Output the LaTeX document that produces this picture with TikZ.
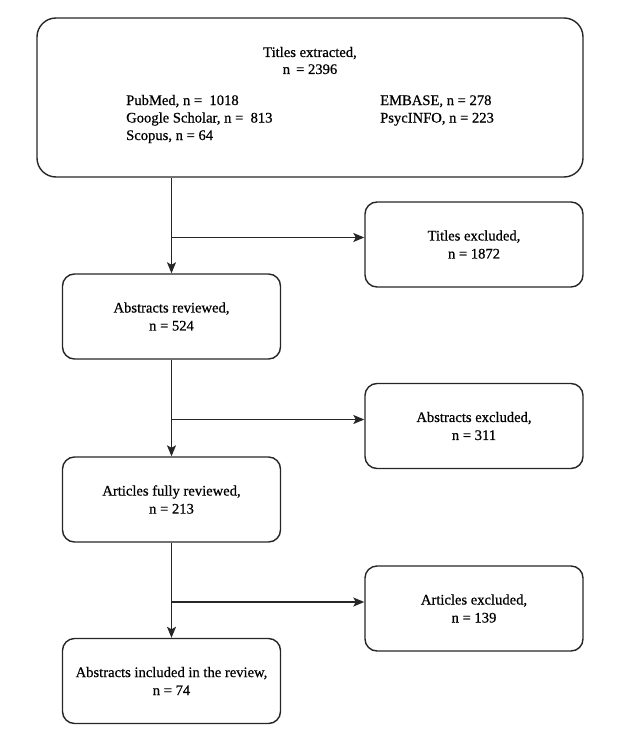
\documentclass[tikz,border=0pt]{standalone}
\usepackage{fontspec}
\setmainfont{Liberation Serif}[FakeBold=0.6]
\usetikzlibrary{arrows.meta}
\begin{document}
\begin{tikzpicture}[x=1pt,y=1pt,
  box/.style={draw=black!85, line width=1.4pt, rounded corners=12pt, minimum width=218pt, minimum height=85pt, align=center, inner sep=0pt, font=\fontsize{14.6}{18}\selectfont},
  bigbox/.style={draw=black!85, line width=1.4pt, rounded corners=19pt, minimum width=546pt, minimum height=159pt, inner sep=0pt},
  txt/.style={align=center, inner sep=0pt, font=\fontsize{14.6}{17}\selectfont},
  src/.style={align=left, inner sep=0pt, anchor=west, font=\fontsize{14.6}{17.5}\selectfont},
  flow/.style={draw=black!85, line width=1.4pt, -{Stealth[length=11pt,width=9pt,inset=2.5pt]}}
]
\useasboundingbox (0,0) rectangle (620,-735);
\node[bigbox] (top) at (310,-97.5) {};
\node[txt] (toptitle) at (310,-60.5) {Titles extracted,\\n \,= 2396};
\node[src] (srcl) at (126,-119) {PubMed, n = \ 1018\\Google Scholar, n = \ 813\\Scopus, n = 64};
\node[src] (srcr) at (380,-110.5) {EMBASE, n = 278\\PsycINFO, n = 223};

\node[box] (te) at (474,-244.5) {Titles excluded,\\n = 1872};
\node[box] (ar) at (171.5,-316.5) {Abstracts reviewed,\\n = 524};
\node[box] (ae) at (474,-426) {Abstracts excluded,\\n = 311};
\node[box] (afr) at (171.5,-499.5) {Articles fully reviewed,\\n = 213};
\node[box] (axe) at (474,-608.5) {Articles excluded,\\n = 139};
\node[box] (ai) at (171.5,-681) {Abstracts included in the review,\\n = 74};

\coordinate (b1) at (171.5,-237.5);
\coordinate (b2) at (171.5,-419.5);
\coordinate (b3) at (171.5,-602);

\draw[flow] (top.south -| ar.north) -- (ar.north);
\draw[flow] (b1) -- (b1 -| te.west);
\draw[flow] (ar.south) -- (afr.north);
\draw[flow] (b2) -- (b2 -| ae.west);
\draw[flow] (afr.south) -- (ai.north);
\draw[flow] (b3) -- (b3 -| axe.west);
\end{tikzpicture}
\end{document}
